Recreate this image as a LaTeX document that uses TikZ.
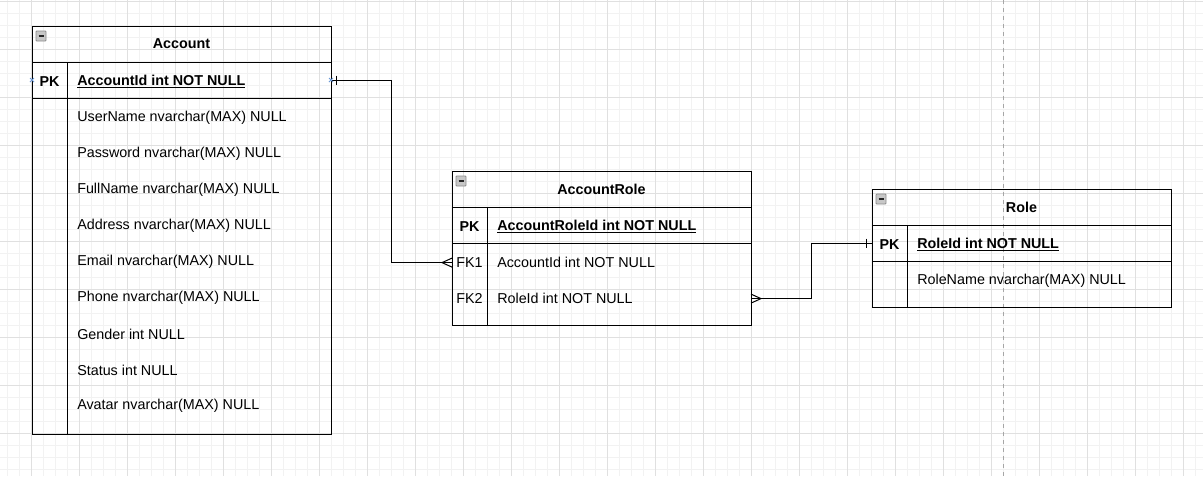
\documentclass[tikz,border=0pt]{standalone}
\usepackage{fontspec}
\setmainfont{Liberation Sans}
\usetikzlibrary{positioning}
\usetikzlibrary{calc}

\tikzset{
  tbl/.style={draw=black,line width=0.75pt,inner sep=0pt,outer sep=0pt,
    minimum width=224.25pt,minimum height=27pt},
  hdr/.style={tbl,font=\fontsize{10.75pt}{12pt}\selectfont\bfseries},
  keytxt/.style={inner sep=0pt,yshift=-1.2pt},
  fieldtxt/.style={inner sep=0pt,anchor=west,yshift=-1.2pt},
  link/.style={draw=black,line width=0.75pt},
  minorgrid/.style={draw=black!5,line width=0.75pt},
  majorgrid/.style={draw=black!12,line width=0.75pt},
  hovermark/.style={draw=cyan!50!blue!60,line width=0.6pt},
}

\begin{document}
\begin{tikzpicture}[x=0.75pt,y=-0.75pt,font=\fontsize{10.75pt}{12pt}\selectfont]
    \useasboundingbox (0,0) rectangle (1203,476);
    \fill[white] (0,0) rectangle (1203,476);
    % background grid
    \foreach \x in {7,19,...,1203} \draw[minorgrid] (\x,0) -- (\x,476);
    \foreach \y in {1,13,...,476} \draw[minorgrid] (0,\y) -- (1203,\y);
    \foreach \x in {31,79,...,1203} \draw[majorgrid] (\x,0) -- (\x,476);
    \foreach \y in {1,49,...,476} \draw[majorgrid] (0,\y) -- (1203,\y);
    \draw[black!35,dash pattern=on 3pt off 3pt] (1003,0) -- (1003,476);

    % Account
    \node[hdr,anchor=north west] (account) at (32,26) {Account};
    \node[tbl,below=0pt of account] (account-pk) {};
    \node[tbl,below=0pt of account-pk,minimum height=252pt] (account-body) {};
    \draw[link] ($(account-pk.north west)+(35,0)$) -- ($(account-body.south west)+(35,0)$);
    \node[keytxt] (account-pk-key) at ($(account-pk.west)+(17.5,0)$) {\bfseries PK};
    \node[fieldtxt] (account-pk-field) at ($(account-pk.west)+(45,0)$) {\bfseries\underline{AccountId int NOT NULL}};
    \foreach \f [count=\i from 0] in {UserName nvarchar(MAX) NULL,Password nvarchar(MAX) NULL,
        FullName nvarchar(MAX) NULL,Address nvarchar(MAX) NULL,Email nvarchar(MAX) NULL,
        Phone nvarchar(MAX) NULL,Gender int NULL,Status int NULL,Avatar nvarchar(MAX) NULL}
      \node[fieldtxt] (account-f\i) at ($(account-body.north west)+(45,18.5+36*\i)$) {\f};

    % AccountRole
    \node[hdr,anchor=north west] (accountrole) at (452,171) {AccountRole};
    \node[tbl,below=0pt of accountrole] (accountrole-pk) {};
    \node[tbl,below=0pt of accountrole-pk,minimum height=61.5pt] (accountrole-body) {};
    \draw[link] ($(accountrole-pk.north west)+(35,0)$) -- ($(accountrole-body.south west)+(35,0)$);
    \node[keytxt] (ar-pk) at ($(accountrole-pk.west)+(17.5,0)$) {\bfseries PK};
    \node[fieldtxt] (ar-pk-field) at ($(accountrole-pk.west)+(45,0)$) {\bfseries\underline{AccountRoleId int NOT NULL}};
    \node[keytxt] (ar-fk1) at ($(accountrole-body.north west)+(17.5,18)$) {FK1};
    \node[fieldtxt] (ar-fk1-field) at ($(accountrole-body.north west)+(45,18)$) {AccountId int NOT NULL};
    \node[keytxt] (ar-fk2) at ($(accountrole-body.north west)+(17.5,54)$) {FK2};
    \node[fieldtxt] (ar-fk2-field) at ($(accountrole-body.north west)+(45,54)$) {RoleId int NOT NULL};

    % Role
    \node[hdr,anchor=north west] (role) at (872,189) {Role};
    \node[tbl,below=0pt of role] (role-pk) {};
    \node[tbl,below=0pt of role-pk,minimum height=34.5pt] (role-body) {};
    \draw[link] ($(role-pk.north west)+(35,0)$) -- ($(role-body.south west)+(35,0)$);
    \node[keytxt] (role-pk-key) at ($(role-pk.west)+(17.5,0)$) {\bfseries PK};
    \node[fieldtxt] (role-pk-field) at ($(role-pk.west)+(45,0)$) {\bfseries\underline{RoleId int NOT NULL}};
    \node[fieldtxt] (role-f0) at ($(role-body.north west)+(45,18)$) {RoleName nvarchar(MAX) NULL};

    % collapse icons
    \foreach \t in {account,accountrole,role} {
      \draw[black!45,fill=black!22,line width=0.6pt,rounded corners=0.6pt]
        ($(\t.north west)+(4,5)$) rectangle ++(10,10);
      \draw[black!85,line width=1pt] ($(\t.north west)+(6.5,10)$) -- ++(5,0);
    }

    % relations
    \draw[link] (account-pk.east) -- ++(60,0) |- (accountrole-body.west |- ar-fk1);
    \draw[link] ($(account-pk.east)+(5,-4.5)$) -- ++(0,9);
    \draw[link] ($(accountrole-body.west |- ar-fk1)+(0,-4.5)$) -- ++(-10,4.5) -- ++(10,4.5);

    \draw[link] (accountrole-body.east |- ar-fk2) -- ++(60,0) |- (role-pk.west);
    \draw[link] ($(accountrole-body.east |- ar-fk2)+(0,-4.5)$) -- ++(10,4.5) -- ++(-10,4.5);
    \draw[link] ($(role-pk.west)+(-6,-4.5)$) -- ++(0,9);

    % hover marks on Account key row
    \foreach \a in {west,east}
      \draw[hovermark] ($(account-pk.\a)+(-2,-2)$) -- ++(4,4) ($(account-pk.\a)+(-2,2)$) -- ++(4,-4);
\end{tikzpicture}
\end{document}
